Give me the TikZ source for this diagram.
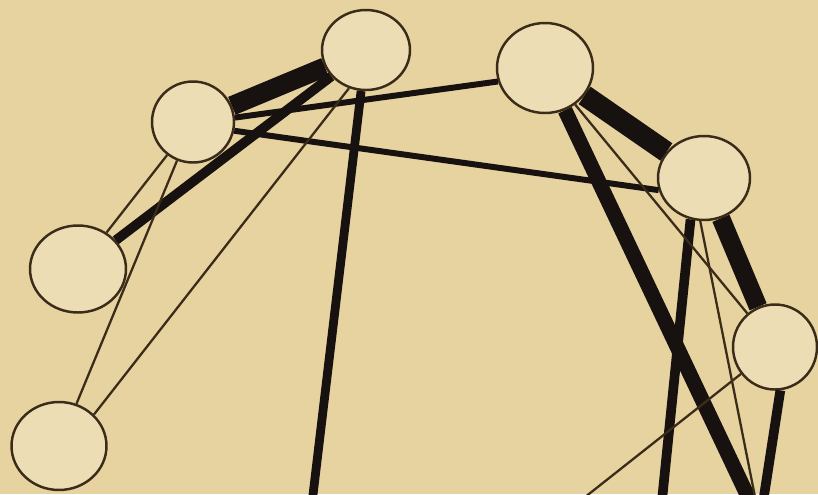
\documentclass[tikz,border=0pt]{standalone}
\usepackage{tikz}
\usetikzlibrary{shapes.geometric}
\definecolor{PaperTan}{HTML}{E6D3A0}
\definecolor{DiscCream}{HTML}{ECDDB4}
\definecolor{RimBrown}{HTML}{3B2C1A}
\definecolor{InkBlack}{HTML}{171110}

\tikzset{
  ring/.style={ellipse, draw=RimBrown, line width=1.4pt, fill=DiscCream, inner sep=0pt,
    minimum width=1.8cm, minimum height=1.7cm},
  bond/.style={draw=InkBlack, line width=#1},
  bond/.default=5pt,
  tie/.style={draw=RimBrown, line width=1.3pt},
}

\begin{document}
\begin{tikzpicture}[x=0.02cm, y=-0.02cm]
  % paper
  \clip (0,0) rectangle (818,494);
  \fill[PaperTan] (0,0) rectangle (818,494);

  % discs
  \node[ring, minimum width=1.76cm, minimum height=1.6cm] (A) at (366,50) {};
  \node[ring, minimum width=1.64cm, minimum height=1.62cm] (B) at (193,122) {};
  \node[ring, minimum width=1.92cm, minimum height=1.8cm] (C) at (545,68) {};
  \node[ring, minimum width=1.84cm, minimum height=1.68cm] (D) at (704,178) {};
  \node[ring, minimum width=1.92cm, minimum height=1.74cm] (E) at (78,269) {};
  \node[ring, minimum width=1.68cm, minimum height=1.7cm] (F) at (775,347) {};
  \node[ring, minimum width=1.9cm, minimum height=1.76cm] (G) at (59,446) {};

  % ends below the page
  \coordinate (ad) at (310,520);
  \coordinate (dd) at (660,520);
  \coordinate (cq) at (760,522);
  \coordinate (fl) at (556,520);

  % heavy bonds
  \draw[bond=11pt] (A) -- (B);
  \draw[bond=12pt] (C) -- (D);
  \draw[bond=10.5pt] (D) -- (F);
  \draw[bond=8.5pt] (C) -- (cq);
  \draw[bond=5.5pt] (E) -- (A);
  \draw[bond] (A) -- (ad);
  \draw[bond=5.5pt] (D.252) -- (dd);
  \draw[bond=5.5pt] (F.277) -- (cq);

  % medium bonds
  \draw[bond=3.4pt] (B.6) -- (C.196);
  \draw[bond=3.4pt] (B.-12) -- (D.195);

  % thin ties
  \draw[tie] (B) -- (E);
  \draw[tie] (B) -- (G);
  \draw[tie] (A.246) -- (G.42);
  \draw[tie] (C) -- (F);
  \draw[tie] (D.265) -- (cq);
  \draw[tie] (F) -- (fl);
\end{tikzpicture}
\end{document}
